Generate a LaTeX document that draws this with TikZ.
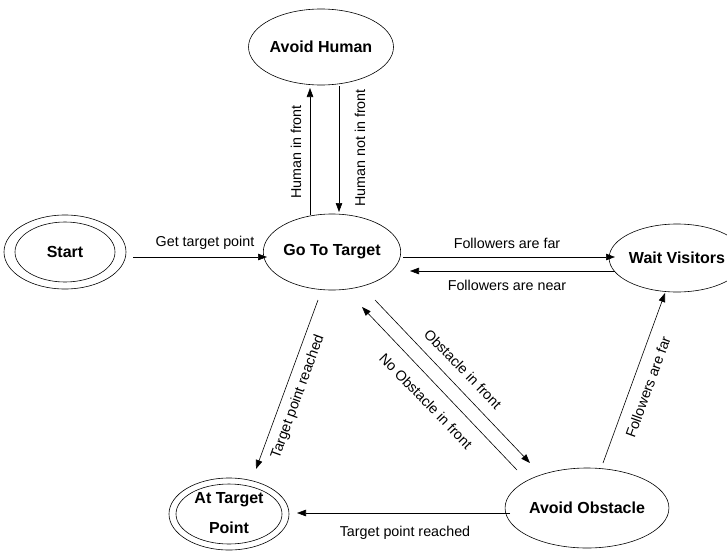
\documentclass[tikz,border=0pt]{standalone}
\usepackage{fontspec}
\setmainfont{Liberation Sans}
\usetikzlibrary{shapes.geometric,arrows.meta}
\begin{document}
\begin{tikzpicture}[x=1pt,y=-1pt,
  state/.style={draw,ellipse,line width=0.6pt,inner sep=0pt,
    font=\fontsize{16}{18}\selectfont\bfseries},
  ring/.style={draw,ellipse,line width=0.6pt,inner sep=0pt},
  arr/.style={line width=0.6pt,-{Triangle[length=9pt,width=6.5pt]}},
  lab/.style={inner sep=0pt,font=\fontsize{14.3}{16}\selectfont}]
\useasboundingbox (0,0) rectangle (727,551);

% states
\node[ring,minimum width=122pt,minimum height=74pt] (start) at (65,252) {};
\node[state,minimum width=100pt,minimum height=60pt] (startin) at (65,252) {Start};
\node[state,minimum width=116pt,minimum height=76pt] (goto) at (332,252) {Go To Target};
\node[state,minimum width=120pt,minimum height=76pt] (human) at (321,47) {Avoid Human};
\node[state,minimum width=104pt,minimum height=68pt] (wait) at (677,258) {Wait Visitors};
\node[state,minimum width=128pt,minimum height=80pt] (obst) at (587,508) {Avoid Obstacle};
\node[ring,minimum width=120pt,minimum height=72pt] (atp) at (229,514) {};
\node[state,minimum width=106pt,minimum height=60pt] (atpin) at (229,514) {};
\node[inner sep=0pt,font=\fontsize{16}{18}\selectfont\bfseries] (atp1) at (229,500) {At Target};
\node[inner sep=0pt,font=\fontsize{16}{18}\selectfont\bfseries] (atp2) at (229,528) {Point};

% transitions
\draw[arr] ([shift={(68,5)}]start.center) -- ([shift={(-65,5)}]goto.center);
\node[lab] (l1) at (205,243) {Get target point};

\draw[arr] ([shift={(-22,-37)}]goto.center) -- ([shift={(-11,41)}]human.center);
\node[lab,rotate=90] (l2) at (296,152) {Human in front};

\draw[arr] ([shift={(18,39)}]human.center) -- ([shift={(7,-40)}]goto.center);
\node[lab,rotate=90] (l3) at (360,148) {Human not in front};

\draw[arr] ([shift={(71,5)}]goto.center) -- ([shift={(-62,-1)}]wait.center);
\node[lab] (l4) at (507,243) {Followers are far};

\draw[arr] ([shift={(-62,13)}]wait.center) -- ([shift={(78,19)}]goto.center);
\node[lab] (l5) at (507,285) {Followers are near};

\draw[arr] ([shift={(-14,48)}]goto.center) -- ([shift={(27,-45)}]atp.center);
\node[lab,rotate=70] (l6) at (298,397) {Target point reached};

\draw[arr] ([shift={(43,48)}]goto.center) -- ([shift={(-57,-45)}]obst.center);
\node[lab,rotate=-46] (l7) at (463,369) {Obstacle in front};

\draw[arr] ([shift={(-70,-38)}]obst.center) -- ([shift={(30,55)}]goto.center);
\node[lab,rotate=-46] (l8) at (426,401) {No Obstacle in front};

\draw[arr] ([shift={(16,-45)}]obst.center) -- ([shift={(-12,35)}]wait.center);
\node[lab,rotate=70] (l9) at (648,387) {Followers are far};

\draw[arr] ([shift={(-77,5)}]obst.center) -- ([shift={(68,-1)}]atp.center);
\node[lab] (l10) at (405,533) {Target point reached};
\end{tikzpicture}
\end{document}
